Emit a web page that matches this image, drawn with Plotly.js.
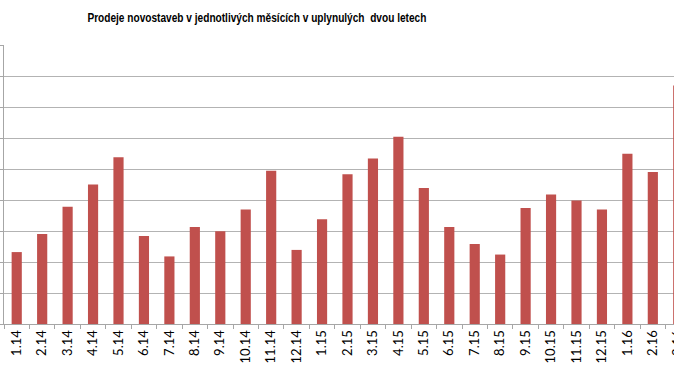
<!DOCTYPE html>
<html>
<head>
<meta charset="utf-8">
<script src="https://cdn.plot.ly/plotly-3.0.1.min.js"></script>
<style>
html, body { margin: 0; padding: 0; overflow: hidden; background: #fff; width: 674px; height: 380px; }
#chart { width: 700px; height: 380px; }
</style>
</head>
<body>
<div id="chart"></div>
<script>
var months = ["1.14","2.14","3.14","4.14","5.14","6.14","7.14","8.14","9.14","10.14","11.14","12.14",
              "1.15","2.15","3.15","4.15","5.15","6.15","7.15","8.15","9.15","10.15","11.15","12.15",
              "1.16","2.16","3.16"];
var sales = [232, 290, 378, 450, 538, 284, 218, 313, 299, 369, 494, 239,
             338, 483, 534, 604, 439, 313, 258, 224, 374, 418, 398, 369,
             549, 490, 769];
var titleText = "Prodeje novostaveb v jednotlivých měsících v uplynulých  dvou letech";

var trace = {
  type: "bar",
  x: months,
  y: sales,
  marker: { color: "#C0504D" },
  hoverinfo: "x+y"
};

var layout = {
  width: 700,
  height: 380,
  margin: { l: 4, r: 9, t: 45, b: 56 },
  paper_bgcolor: "#ffffff",
  plot_bgcolor: "#ffffff",
  bargap: 0.6,
  showlegend: false,
  title: {
    text: titleText,
    font: { family: "Liberation Sans, Arial, sans-serif", size: 13, weight: "bold", color: "#000000" },
    xref: "container", x: 0.367, xanchor: "center",
    yref: "container", y: 0.955, yanchor: "middle"
  },
  xaxis: {
    type: "category",
    tickangle: -90,
    ticks: "outside",
    tickson: "boundaries",
    ticklen: 4,
    tickcolor: "#A6A6A6",
    showline: true,
    linecolor: "#A6A6A6",
    linewidth: 1,
    showgrid: false,
    tickfont: { family: "Lato, Open Sans, sans-serif", size: 13, color: "#000000" }
  },
  yaxis: {
    range: [0, 900],
    dtick: 100,
    showticklabels: false,
    ticks: "outside",
    ticklen: 4,
    tickcolor: "#A6A6A6",
    showline: true,
    linecolor: "#A6A6A6",
    gridcolor: "#B3B3B3",
    gridwidth: 1,
    zeroline: false
  }
};

function narrowTitle() {
  var t = document.querySelector("#chart .gtitle");
  if (t) {
    t.setAttribute("textLength", "339");
    t.setAttribute("lengthAdjust", "spacingAndGlyphs");
  }
}

Plotly.newPlot("chart", [trace], layout, { displayModeBar: false, staticPlot: true }).then(function (gd) {
  narrowTitle();
  gd.on("plotly_afterplot", narrowTitle);
});
</script>
</body>
</html>
